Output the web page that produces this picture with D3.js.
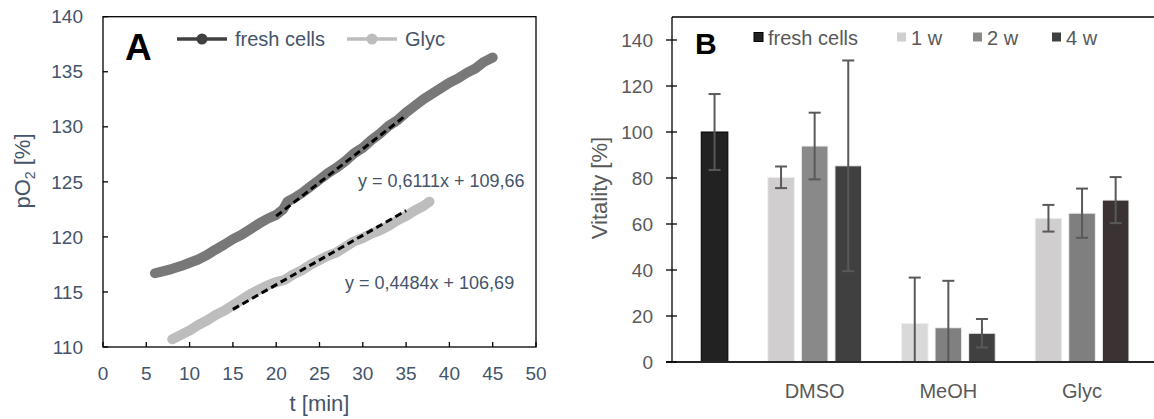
<!DOCTYPE html>
<html>
<head>
<meta charset="utf-8">
<script src="https://cdn.jsdelivr.net/npm/d3@7"></script>
<style>
  body { margin: 0; background: #fff; }
  svg { display: block; font-family: "Liberation Sans", Arial, sans-serif; }
</style>
</head>
<body>
<svg id="canvas" width="1154" height="419"></svg>
<script>
// ---- Panel A: pO2 over time ----
const freshT = [6, 7, 8, 9, 10, 11, 12, 13, 14, 15, 16, 17, 18, 19, 20, 20.8, 21.3, 22, 23, 24, 25, 26, 27, 28, 29, 30,
                31, 32, 33, 34, 35, 36, 37, 38, 39, 40, 41, 42, 43, 44, 45];
const freshPO2 = [116.7, 116.9, 117.1, 117.35, 117.65, 117.95, 118.35, 118.85, 119.3, 119.8, 120.2, 120.7, 121.2, 121.65,
                  122.0, 122.5, 123.2, 123.5, 124.0, 124.6, 125.2, 125.8, 126.3, 126.9, 127.6, 128.1, 128.8, 129.4, 130.1,
                  130.6, 131.3, 131.9, 132.5, 133.0, 133.5, 134.0, 134.4, 134.9, 135.3, 135.9, 136.3];
const glycT = [8, 9, 10, 11, 12, 13, 14, 15, 16, 17, 18, 19, 20, 21, 22, 23, 24, 25, 26, 27, 28, 29, 30, 31, 32, 33,
               34, 35, 36, 37, 37.7];
const glycPO2 = [110.7, 111.1, 111.5, 112.0, 112.4, 112.9, 113.3, 113.8, 114.3, 114.8, 115.2, 115.6, 115.9, 116.1, 116.6,
                 117.0, 117.5, 117.9, 118.3, 118.6, 119.1, 119.6, 119.9, 120.3, 120.6, 121.0, 121.5, 121.9, 122.4, 122.8, 123.2];
// linear fits: [slope, intercept, from, to]
const freshFit = [0.6111, 109.66, 20, 35];
const glycFit = [0.4484, 106.69, 15, 35];
const timeTicks = [0, 5, 10, 15, 20, 25, 30, 35, 40, 45, 50];
const po2Ticks = [110, 115, 120, 125, 130, 135, 140];

// ---- Panel B: vitality ----
const groups = ["", "DMSO", "MeOH", "Glyc"];
const weeks = ["1 w", "2 w", "4 w"];
const freshVitality = [100, 16.5];          // value, error
const vit1w = [null, 80.3, 16.8, 62.5];
const vit2w = [null, 93.9, 14.9, 64.7];
const vit4w = [null, 85.3, 12.5, 70.4];
const err1w = [null, 4.7, 19.9, 5.8];
const err2w = [null, 14.5, 20.4, 10.7];
const err4w = [null, 45.8, 6.2, 10];
const vitTicks = [0, 20, 40, 60, 80, 100, 120, 140];

const svg = d3.select("#canvas");
const blueGray = "#44546a";
const darkGray = "#595959";

// ================= Panel A =================
const xA = d3.scaleLinear().domain([0, 50]).range([103, 536]);
const yA = d3.scaleLinear().domain([110, 140]).range([347, 16.7]);

const gA = svg.append("g");

// frame
gA.append("rect")
  .attr("x", xA(0)).attr("y", yA(140))
  .attr("width", xA(50) - xA(0)).attr("height", yA(110) - yA(140))
  .attr("fill", "none").attr("stroke", "#000").attr("stroke-width", 1.3);

// inward ticks
gA.selectAll(".ytickA").data(po2Ticks).enter().append("line")
  .attr("x1", xA(0)).attr("x2", xA(0) + 5)
  .attr("y1", d => yA(d)).attr("y2", d => yA(d))
  .attr("stroke", "#000").attr("stroke-width", 1.3);
gA.selectAll(".xtickA").data(timeTicks).enter().append("line")
  .attr("x1", d => xA(d)).attr("x2", d => xA(d))
  .attr("y1", yA(110)).attr("y2", yA(110) - 5)
  .attr("stroke", "#000").attr("stroke-width", 1.3);

gA.selectAll(".ylabA").data(po2Ticks).enter().append("text")
  .attr("x", 83).attr("y", d => yA(d)).attr("dy", "0.35em")
  .attr("text-anchor", "end").attr("font-size", 19).attr("fill", blueGray)
  .text(d => d);
gA.selectAll(".xlabA").data(timeTicks).enter().append("text")
  .attr("x", d => xA(d)).attr("y", 380)
  .attr("text-anchor", "middle").attr("font-size", 19).attr("fill", blueGray)
  .text(d => d);

gA.append("text")
  .attr("x", (xA(0) + xA(50)) / 2).attr("y", 411)
  .attr("text-anchor", "middle").attr("font-size", 22).attr("fill", blueGray)
  .text("t [min]");

const yTitleA = gA.append("text")
  .attr("transform", "translate(30,171) rotate(-90)")
  .attr("text-anchor", "middle").attr("font-size", 22).attr("fill", blueGray);
yTitleA.append("tspan").text("pO");
yTitleA.append("tspan").attr("font-size", 14).attr("dy", 5).text("2");
yTitleA.append("tspan").attr("dy", -5).text(" [%]");

// measured series
const lineA = d3.line().x(d => xA(d[0])).y(d => yA(d[1]));
const freshPts = freshT.map((t, i) => [t, freshPO2[i]]);
const glycPts = glycT.map((t, i) => [t, glycPO2[i]]);

gA.append("path").datum(freshPts)
  .attr("d", lineA).attr("fill", "none")
  .attr("stroke", "#787878").attr("stroke-width", 10)
  .attr("stroke-linecap", "round").attr("stroke-linejoin", "round");
gA.append("path").datum(glycPts)
  .attr("d", lineA).attr("fill", "none")
  .attr("stroke", "#bdbdbd").attr("stroke-width", 10)
  .attr("stroke-linecap", "round").attr("stroke-linejoin", "round");

// trendlines from the fitted equations
[freshFit, glycFit].forEach(f => {
  gA.append("line")
    .attr("x1", xA(f[2])).attr("y1", yA(f[0] * f[2] + f[1]))
    .attr("x2", xA(f[3])).attr("y2", yA(f[0] * f[3] + f[1]))
    .attr("stroke", "#000").attr("stroke-width", 3)
    .attr("stroke-dasharray", "7,4");
});

const fmt = v => String(v).replace(".", ",");
gA.append("text").attr("x", 358).attr("y", 187)
  .attr("font-size", 18).attr("fill", blueGray)
  .text(`y = ${fmt(freshFit[0])}x + ${fmt(freshFit[1])}`);
gA.append("text").attr("x", 345).attr("y", 289)
  .attr("font-size", 18).attr("fill", blueGray)
  .text(`y = ${fmt(glycFit[0])}x + ${fmt(glycFit[1])}`);

// panel letter and legend
gA.append("text").attr("x", 125).attr("y", 60)
  .attr("font-size", 37).attr("font-weight", "bold").attr("fill", "#000").text("A");

const legendA = [
  { name: "fresh cells", color: "#404040", x: 177 },
  { name: "Glyc", color: "#bdbdbd", x: 347 }
];
legendA.forEach(l => {
  gA.append("line").attr("x1", l.x).attr("x2", l.x + 50).attr("y1", 39).attr("y2", 39)
    .attr("stroke", l.color).attr("stroke-width", 3.5);
  gA.append("circle").attr("cx", l.x + 25).attr("cy", 39).attr("r", 5.5).attr("fill", l.color);
  gA.append("text").attr("x", l.x + 58).attr("y", 46)
    .attr("font-size", 20).attr("fill", blueGray).text(l.name);
});

// ================= Panel B =================
const yB = d3.scaleLinear().domain([0, 150]).range([362, 17]);
const x0 = d3.scaleBand().domain(groups).range([614.1, 1148.9]);
const x1 = d3.scaleBand().domain(weeks).range([16.45, x0.bandwidth() - 16.45])
  .paddingInner(0.208).paddingOuter(0.104);

const barFill = {
  "fresh cells": "#222222",
  "1 w": ["#d0cece", "#d0cece", "#d9d9d9", "#d0cece"],
  "2 w": ["#898989", "#898989", "#808080", "#7f7f7f"],
  "4 w": ["#404040", "#404040", "#404040", "#3b3333"]
};

// bar records: fresh cells sit in the first group, in the 4 w slot
const bars = [{ group: groups[0], slot: "4 w", series: "fresh cells", value: freshVitality[0], err: freshVitality[1], fill: barFill["fresh cells"] }];
[[vit1w, err1w], [vit2w, err2w], [vit4w, err4w]].forEach((pair, si) => {
  groups.forEach((g, gi) => {
    if (pair[0][gi] == null) return;
    bars.push({ group: g, slot: weeks[si], series: weeks[si], value: pair[0][gi], err: pair[1][gi], fill: barFill[weeks[si]][gi] });
  });
});

const gB = svg.append("g");
const axisX = 672;

gB.selectAll(".bar").data(bars).enter().append("rect")
  .attr("x", d => x0(d.group) + x1(d.slot))
  .attr("y", d => yB(d.value))
  .attr("width", x1.bandwidth())
  .attr("height", d => yB(0) - yB(d.value))
  .attr("fill", d => d.fill)
  .attr("stroke", d => d.series === "fresh cells" ? "#000" : "#f0f0f0")
  .attr("stroke-width", 1);

// error bars (clipped at zero)
const errG = gB.selectAll(".err").data(bars).enter().append("g")
  .attr("stroke", darkGray).attr("stroke-width", 2);
errG.append("line")
  .attr("x1", d => x0(d.group) + x1(d.slot) + x1.bandwidth() / 2)
  .attr("x2", d => x0(d.group) + x1(d.slot) + x1.bandwidth() / 2)
  .attr("y1", d => yB(d.value + d.err))
  .attr("y2", d => yB(Math.max(0, d.value - d.err)));
errG.append("line")
  .attr("x1", d => x0(d.group) + x1(d.slot) + x1.bandwidth() / 2 - 6)
  .attr("x2", d => x0(d.group) + x1(d.slot) + x1.bandwidth() / 2 + 6)
  .attr("y1", d => yB(d.value + d.err)).attr("y2", d => yB(d.value + d.err));
errG.filter(d => d.value - d.err > 0).append("line")
  .attr("x1", d => x0(d.group) + x1(d.slot) + x1.bandwidth() / 2 - 6)
  .attr("x2", d => x0(d.group) + x1(d.slot) + x1.bandwidth() / 2 + 6)
  .attr("y1", d => yB(d.value - d.err)).attr("y2", d => yB(d.value - d.err));

// frame: left axis, top border, bottom axis
gB.append("line").attr("x1", axisX).attr("x2", 1154).attr("y1", yB(150)).attr("y2", yB(150))
  .attr("stroke", "#000").attr("stroke-width", 1.3);
gB.append("line").attr("x1", axisX).attr("x2", axisX).attr("y1", yB(150)).attr("y2", yB(0))
  .attr("stroke", "#000").attr("stroke-width", 1.3);
gB.append("line").attr("x1", 666).attr("x2", 1154).attr("y1", yB(0)).attr("y2", yB(0))
  .attr("stroke", "#262626").attr("stroke-width", 2);

gB.selectAll(".ytickB").data(vitTicks).enter().append("line")
  .attr("x1", 666).attr("x2", 677)
  .attr("y1", d => yB(d)).attr("y2", d => yB(d))
  .attr("stroke", "#000").attr("stroke-width", 1.3);
gB.selectAll(".ylabB").data(vitTicks).enter().append("text")
  .attr("x", 653).attr("y", d => yB(d)).attr("dy", "0.35em")
  .attr("text-anchor", "end").attr("font-size", 19).attr("fill", darkGray)
  .text(d => d);

gB.selectAll(".grpLab").data(groups.filter(g => g)).enter().append("text")
  .attr("x", d => x0(d) + x0.bandwidth() / 2).attr("y", 398)
  .attr("text-anchor", "middle").attr("font-size", 20).attr("fill", darkGray)
  .text(d => d);

gB.append("text")
  .attr("transform", "translate(607,188) rotate(-90)")
  .attr("text-anchor", "middle").attr("font-size", 22).attr("fill", darkGray)
  .text("Vitality [%]");

gB.append("text").attr("x", 695).attr("y", 53.5)
  .attr("font-size", 30).attr("font-weight", "bold").attr("fill", "#000").text("B");

const legendB = [
  { name: "fresh cells", color: "#222222", x: 754 },
  { name: "1 w", color: "#d0cece", x: 897 },
  { name: "2 w", color: "#898989", x: 973 },
  { name: "4 w", color: "#404040", x: 1052 }
];
legendB.forEach(l => {
  gB.append("rect").attr("x", l.x).attr("y", 32.5).attr("width", 9).attr("height", 9)
    .attr("fill", l.color).attr("stroke", l.name === "fresh cells" ? "#000" : "none");
  gB.append("text").attr("x", l.x + 14).attr("y", 45)
    .attr("font-size", 20).attr("fill", darkGray).text(l.name);
});
</script>
</body>
</html>
